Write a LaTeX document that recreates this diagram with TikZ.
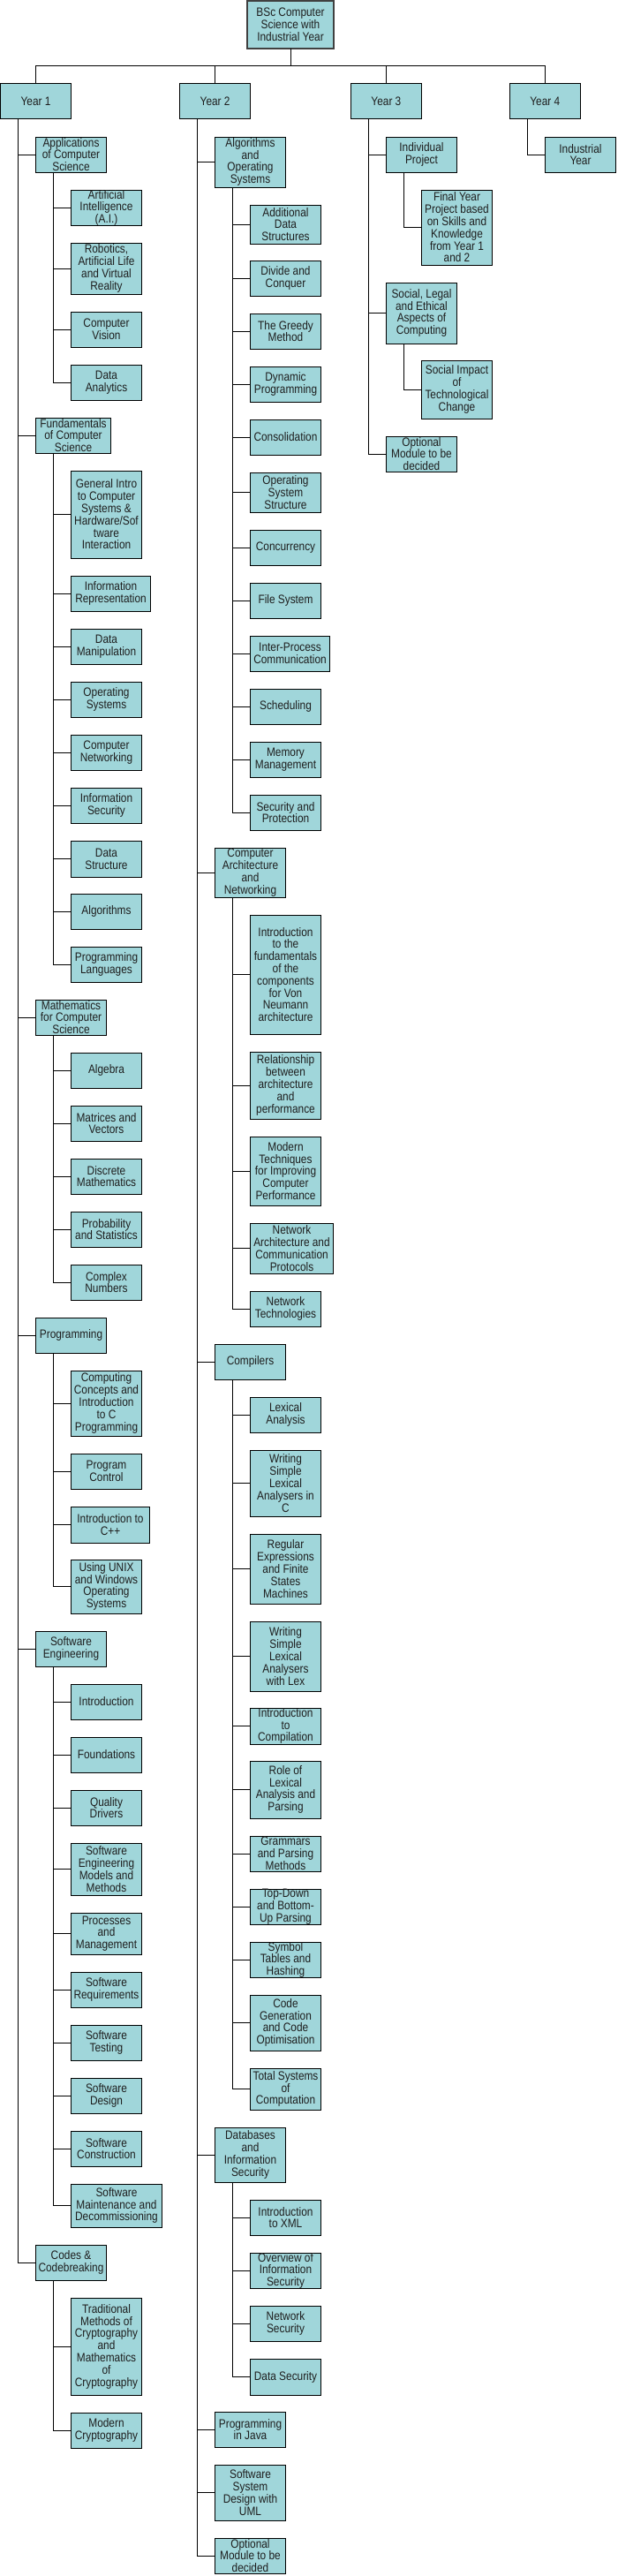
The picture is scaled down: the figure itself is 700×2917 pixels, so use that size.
\documentclass[tikz,border=0pt]{standalone}
\usepackage{fontspec}
\setmainfont[FakeStretch=0.86]{Liberation Sans}
\definecolor{boxfill}{RGB}{160,214,218}
\definecolor{txt}{RGB}{30,30,30}
\tikzset{
  cbox/.style={draw=black, line width=1pt, fill=boxfill, anchor=north west, inner sep=0pt, outer sep=0pt,
    align=center, text=txt, font=\fontsize{13.8}{13.8}\selectfont},
  lnk/.style={draw=black, line width=1pt}
}
\newcommand\mkbox[6]{\node[cbox, minimum width=#4pt, minimum height=#5pt] (#1) at (#2,#3) {#6};}
\newcommand\lk[2]{\draw[lnk] (#1.south west) ++(20,0) |- (#2.west);}
\begin{document}
\begin{tikzpicture}[x=1pt,y=-1pt]
\useasboundingbox (0,0) rectangle (700,2917);
% root and years
\node[cbox, draw=black!75, line width=1.3pt, minimum width=98pt, minimum height=54pt] (root) at (280,1) {BSc Computer\\Science with\\Industrial Year};
\mkbox{y1}{0.6}{95}{80}{40}{Year 1}
\mkbox{y2}{203.6}{95}{80}{40}{Year 2}
\mkbox{y3}{397.4}{95}{80}{40}{Year 3}
\mkbox{y4}{577.3}{95}{80}{40}{Year 4}
\foreach \y in {y1,y2,y3,y4} {\draw[lnk] (root.south) -- ++(0,20) -| (\y.north);}

% ---------------- Year 1 ----------------
\mkbox{a1}{40.5}{155}{80}{40}{Applications\\of Computer\\Science}
\mkbox{a1c1}{80.5}{215}{80}{40}{Artificial\\Intelligence\\(A.I.)}
\mkbox{a1c2}{80.5}{275}{80}{58}{Robotics,\\Artificial Life\\and Virtual\\Reality}
\mkbox{a1c3}{80.5}{353}{80}{40}{Computer\\Vision}
\mkbox{a1c4}{80.5}{413}{80}{40}{Data\\Analytics}
\mkbox{a2}{40.5}{473}{85}{40}{Fundamentals\\of Computer\\Science}
\mkbox{a2c1}{80.5}{533}{80}{99}{General Intro\\to Computer\\Systems \&\\Hardware/Sof\\tware\\Interaction}
\mkbox{a2c2}{80.5}{652}{90}{40}{Information\\Representation}
\mkbox{a2c3}{80.5}{712}{80}{40}{Data\\Manipulation}
\mkbox{a2c4}{80.5}{772}{80}{40}{Operating\\Systems}
\mkbox{a2c5}{80.5}{832}{80}{40}{Computer\\Networking}
\mkbox{a2c6}{80.5}{892}{80}{40}{Information\\Security}
\mkbox{a2c7}{80.5}{952}{80}{41}{Data\\Structure}
\mkbox{a2c8}{80.5}{1012}{80}{40}{Algorithms}
\mkbox{a2c9}{80.5}{1072}{80}{40}{Programming\\Languages}
\mkbox{a3}{40.5}{1132}{80}{40}{Mathematics\\for Computer\\Science}
\mkbox{a3c1}{80.5}{1192}{80}{40}{Algebra}
\mkbox{a3c2}{80.5}{1252}{80}{40}{Matrices and\\Vectors}
\mkbox{a3c3}{80.5}{1312}{80}{40}{Discrete\\Mathematics}
\mkbox{a3c4}{80.5}{1372}{80}{40}{Probability\\and Statistics}
\mkbox{a3c5}{80.5}{1432}{80}{40}{Complex\\Numbers}
\mkbox{a4}{40.5}{1492}{80}{40}{Programming}
\mkbox{a4c1}{80.5}{1552}{80}{74}{Computing\\Concepts and\\Introduction\\to C\\Programming}
\mkbox{a4c2}{80.5}{1646}{80}{40}{Program\\Control}
\mkbox{a4c3}{80.5}{1706}{89}{41}{Introduction to\\C++}
\mkbox{a4c4}{80.5}{1766}{80}{61}{Using UNIX\\and Windows\\Operating\\Systems}
\mkbox{a5}{40.5}{1847}{80}{40}{Software\\Engineering}
\mkbox{a5c1}{80.5}{1907}{80}{40}{Introduction}
\mkbox{a5c2}{80.5}{1967}{80}{40}{Foundations}
\mkbox{a5c3}{80.5}{2027}{80}{40}{Quality\\Drivers}
\mkbox{a5c4}{80.5}{2087}{80}{59}{Software\\Engineering\\Models and\\Methods}
\mkbox{a5c5}{80.5}{2166}{80}{47}{Processes\\and\\Management}
\mkbox{a5c6}{80.5}{2233}{80}{40}{Software\\Requirements}
\mkbox{a5c7}{80.5}{2293}{80}{40}{Software\\Testing}
\mkbox{a5c8}{80.5}{2353}{80}{40}{Software\\Design}
\mkbox{a5c9}{80.5}{2413}{80}{40}{Software\\Construction}
\mkbox{a5c10}{80.5}{2473}{103}{49}{Software\\Maintenance and\\Decommissioning}
\mkbox{a6}{40.5}{2542}{80}{40}{Codes \&\\Codebreaking}
\mkbox{a6c1}{80.5}{2602}{80}{110}{Traditional\\Methods of\\Cryptography\\and\\Mathematics\\of\\Cryptography}
\mkbox{a6c2}{80.5}{2732}{80}{40}{Modern\\Cryptography}

\foreach \c in {a1,a2,a3,a4,a5,a6} {\lk{y1}{\c}}
\foreach \c in {a1c1,a1c2,a1c3,a1c4} {\lk{a1}{\c}}
\foreach \c in {a2c1,a2c2,a2c3,a2c4,a2c5,a2c6,a2c7,a2c8,a2c9} {\lk{a2}{\c}}
\foreach \c in {a3c1,a3c2,a3c3,a3c4,a3c5} {\lk{a3}{\c}}
\foreach \c in {a4c1,a4c2,a4c3,a4c4} {\lk{a4}{\c}}
\foreach \c in {a5c1,a5c2,a5c3,a5c4,a5c5,a5c6,a5c7,a5c8,a5c9,a5c10} {\lk{a5}{\c}}
\foreach \c in {a6c1,a6c2} {\lk{a6}{\c}}

% ---------------- Year 2 ----------------
\mkbox{b1}{243.5}{155}{80}{57}{Algorithms\\and\\Operating\\Systems}
\mkbox{b1c1}{283.5}{232}{80}{44}{Additional\\Data\\Structures}
\mkbox{b1c2}{283.5}{295}{80}{40}{Divide and\\Conquer}
\mkbox{b1c3}{283.5}{355}{80}{40}{The Greedy\\Method}
\mkbox{b1c4}{283.5}{415}{80}{40}{Dynamic\\Programming}
\mkbox{b1c5}{283.5}{475}{80}{40}{Consolidation}
\mkbox{b1c6}{283.5}{535}{80}{45}{Operating\\System\\Structure}
\mkbox{b1c7}{283.5}{600}{80}{40}{Concurrency}
\mkbox{b1c8}{283.5}{660}{80}{40}{File System}
\mkbox{b1c9}{283.5}{720}{90}{40}{Inter-Process\\Communication}
\mkbox{b1c10}{283.5}{780}{80}{40}{Scheduling}
\mkbox{b1c11}{283.5}{840}{80}{40}{Memory\\Management}
\mkbox{b1c12}{283.5}{900}{80}{40}{Security and\\Protection}
\mkbox{b2}{243.5}{960}{80}{56}{Computer\\Architecture\\and\\Networking}
\mkbox{b2c1}{283.5}{1036}{80}{135}{Introduction\\to the\\fundamentals\\of the\\components\\for Von\\Neumann\\architecture}
\mkbox{b2c2}{283.5}{1191}{80}{76}{Relationship\\between\\architecture\\and\\performance}
\mkbox{b2c3}{283.5}{1287}{80}{78}{Modern\\Techniques\\for Improving\\Computer\\Performance}
\mkbox{b2c4}{283.5}{1385}{94}{57}{Network\\Architecture and\\Communication\\Protocols}
\mkbox{b2c5}{283.5}{1462}{80}{40}{Network\\Technologies}
\mkbox{b3}{243.5}{1522}{80}{40}{Compilers}
\mkbox{b3c1}{283.5}{1582}{80}{40}{Lexical\\Analysis}
\mkbox{b3c2}{283.5}{1642}{80}{75}{Writing\\Simple\\Lexical\\Analysers in\\C}
\mkbox{b3c3}{283.5}{1737}{80}{79}{Regular\\Expressions\\and Finite\\States\\Machines}
\mkbox{b3c4}{283.5}{1836}{80}{79}{Writing\\Simple\\Lexical\\Analysers\\with Lex}
\mkbox{b3c5}{283.5}{1934}{80}{41}{Introduction\\to\\Compilation}
\mkbox{b3c6}{283.5}{1994}{80}{65}{Role of\\Lexical\\Analysis and\\Parsing}
\mkbox{b3c7}{283.5}{2079}{80}{40}{Grammars\\and Parsing\\Methods}
\mkbox{b3c8}{283.5}{2139}{80}{40}{Top-Down\\and Bottom-\\Up Parsing}
\mkbox{b3c9}{283.5}{2199}{80}{40}{Symbol\\Tables and\\Hashing}
\mkbox{b3c10}{283.5}{2259}{80}{63}{Code\\Generation\\and Code\\Optimisation}
\mkbox{b3c11}{283.5}{2342}{80}{47}{Total Systems\\of\\Computation}
\mkbox{b4}{243.5}{2409}{80}{62}{Databases\\and\\Information\\Security}
\mkbox{b4c1}{283.5}{2491}{80}{40}{Introduction\\to XML}
\mkbox{b4c2}{283.5}{2551}{80}{40}{Overview of\\Information\\Security}
\mkbox{b4c3}{283.5}{2611}{80}{40}{Network\\Security}
\mkbox{b4c4}{283.5}{2671}{80}{41}{Data Security}
\mkbox{b5}{243.5}{2731}{80}{40}{Programming\\in Java}
\mkbox{b6}{243.5}{2791}{80}{63}{Software\\System\\Design with\\UML}
\mkbox{b7}{243.5}{2874}{80}{40}{Optional\\Module to be\\decided}

\foreach \c in {b1,b2,b3,b4,b5,b6,b7} {\lk{y2}{\c}}
\foreach \c in {b1c1,b1c2,b1c3,b1c4,b1c5,b1c6,b1c7,b1c8,b1c9,b1c10,b1c11,b1c12} {\lk{b1}{\c}}
\foreach \c in {b2c1,b2c2,b2c3,b2c4,b2c5} {\lk{b2}{\c}}
\foreach \c in {b3c1,b3c2,b3c3,b3c4,b3c5,b3c6,b3c7,b3c8,b3c9,b3c10,b3c11} {\lk{b3}{\c}}
\foreach \c in {b4c1,b4c2,b4c3,b4c4} {\lk{b4}{\c}}

% ---------------- Year 3 ----------------
\mkbox{c1}{437.5}{155}{80}{40}{Individual\\Project}
\mkbox{c1c1}{477.5}{215}{80}{85}{Final Year\\Project based\\on Skills and\\Knowledge\\from Year 1\\and 2}
\mkbox{c2}{437.5}{320}{80}{69}{Social, Legal\\and Ethical\\Aspects of\\Computing}
\mkbox{c2c1}{477.5}{408}{80}{66}{Social Impact\\of\\Technological\\Change}
\mkbox{c3}{437.5}{494}{80}{40}{Optional\\Module to be\\decided}
\foreach \c in {c1,c2,c3} {\lk{y3}{\c}}
\lk{c1}{c1c1}
\lk{c2}{c2c1}

% ---------------- Year 4 ----------------
\mkbox{d1}{617.5}{155}{80}{40}{Industrial\\Year}
\lk{y4}{d1}
\end{tikzpicture}
\end{document}
